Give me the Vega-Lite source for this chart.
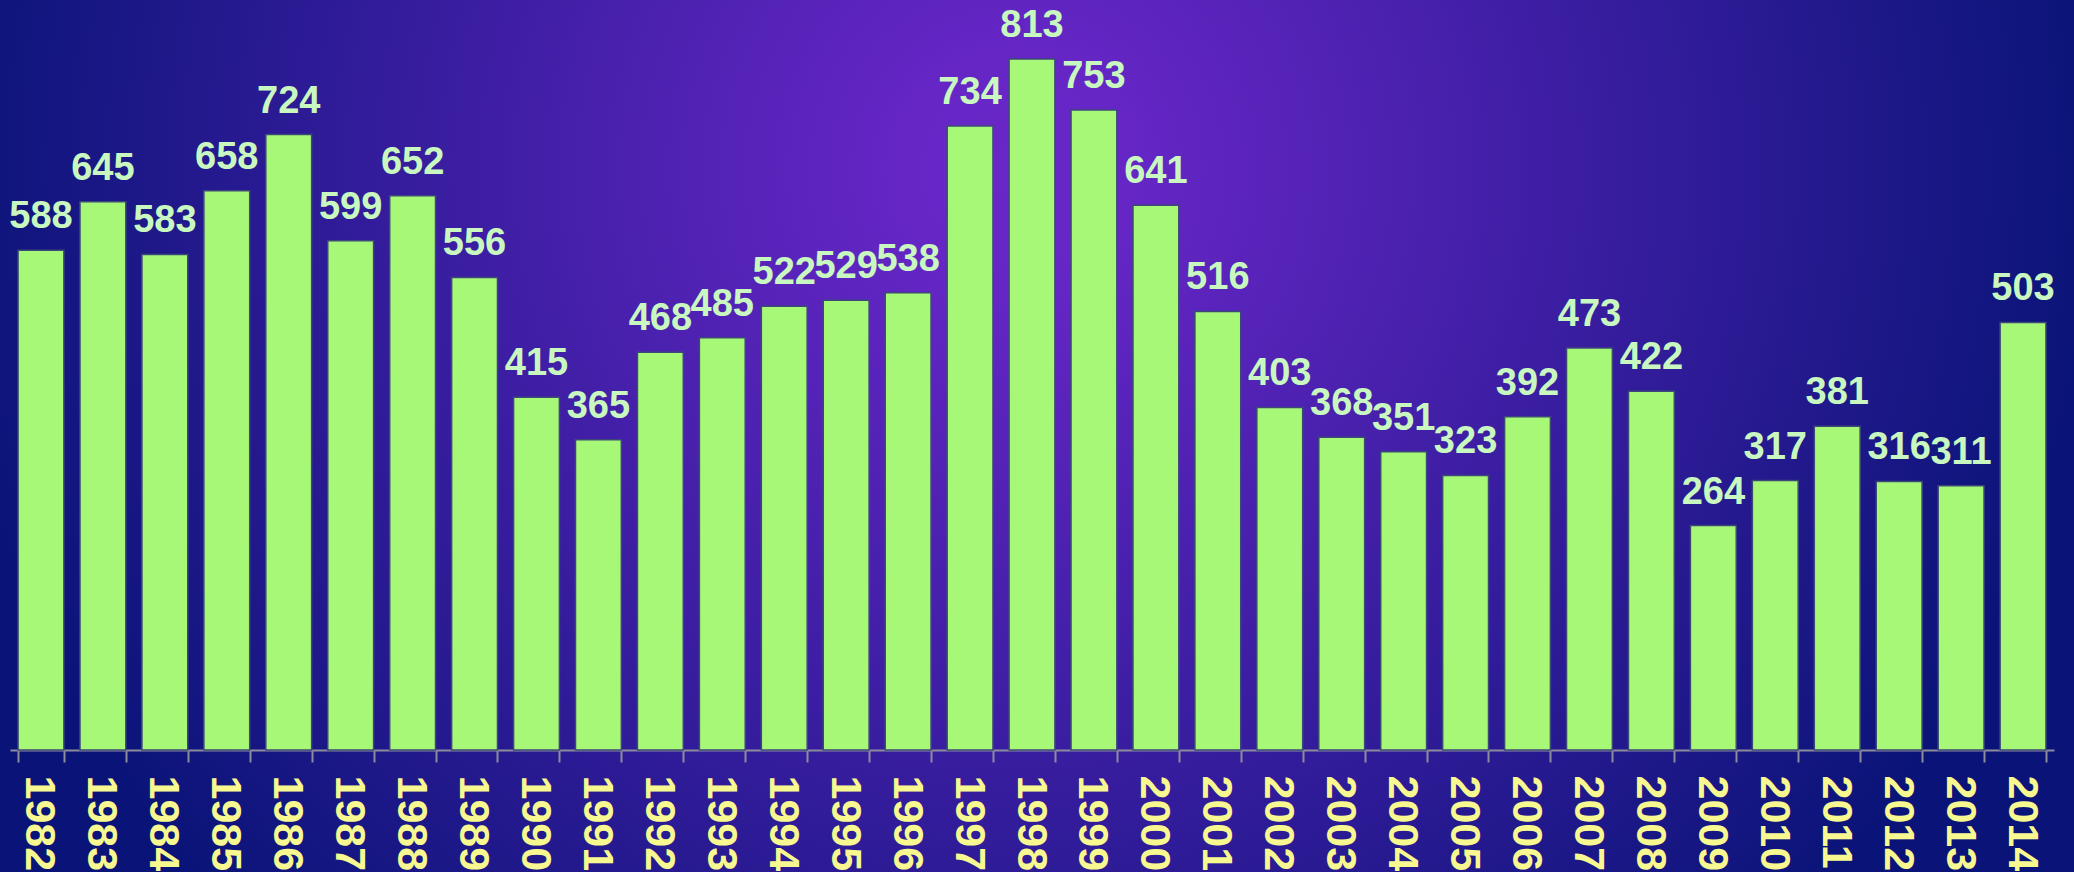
{
  "$schema": "https://vega.github.io/schema/vega-lite/v6.json",
  "width": 2074,
  "height": 872,
  "autosize": {"type": "none"},
  "padding": 0,
  "background": "#0a1478",
  "config": {
    "view": {
      "stroke": null,
      "fill": {
        "gradient": "radial",
        "x1": 0.49, "y1": 0.372, "r1": 0,
        "x2": 0.49, "y2": 0.372, "r2": 0.52,
        "stops": [
          {"offset": 0, "color": "#6a26c8"},
          {"offset": 0.1, "color": "#6626c6"},
          {"offset": 1, "color": "#0a1478"}
        ]
      }
    }
  },
  "data": {
    "values": [
      {"year": 1982, "count": 588}, {"year": 1983, "count": 645}, {"year": 1984, "count": 583},
      {"year": 1985, "count": 658}, {"year": 1986, "count": 724}, {"year": 1987, "count": 599},
      {"year": 1988, "count": 652}, {"year": 1989, "count": 556}, {"year": 1990, "count": 415},
      {"year": 1991, "count": 365}, {"year": 1992, "count": 468}, {"year": 1993, "count": 485},
      {"year": 1994, "count": 522}, {"year": 1995, "count": 529}, {"year": 1996, "count": 538},
      {"year": 1997, "count": 734}, {"year": 1998, "count": 813}, {"year": 1999, "count": 753},
      {"year": 2000, "count": 641}, {"year": 2001, "count": 516}, {"year": 2002, "count": 403},
      {"year": 2003, "count": 368}, {"year": 2004, "count": 351}, {"year": 2005, "count": 323},
      {"year": 2006, "count": 392}, {"year": 2007, "count": 473}, {"year": 2008, "count": 422},
      {"year": 2009, "count": 264}, {"year": 2010, "count": 317}, {"year": 2011, "count": 381},
      {"year": 2012, "count": 316}, {"year": 2013, "count": 311}, {"year": 2014, "count": 503}
    ]
  },
  "encoding": {
    "x": {
      "field": "year",
      "type": "ordinal",
      "scale": {"range": [10, 2054], "paddingInner": 0.26, "paddingOuter": 0.13},
      "axis": {
        "title": null,
        "labelAngle": 90,
        "labelAlign": "left",
        "labelBaseline": "middle",
        "labelFont": "Liberation Sans",
        "labelFontWeight": "bold",
        "labelFontSize": 43,
        "labelColor": "#f8f890",
        "labelPadding": 13,
        "labelOffset": -2,
        "labelOverlap": false,
        "tickBand": "extent",
        "tickSize": 12,
        "tickColor": "#8c8c9c",
        "tickWidth": 2,
        "domainColor": "#8c8c9c",
        "domainWidth": 2,
        "offset": -122,
        "grid": false
      }
    },
    "y": {
      "field": "count",
      "type": "quantitative",
      "scale": {"domain": [0, 880], "range": [750, 2]},
      "axis": null
    }
  },
  "layer": [
    {
      "mark": {"type": "bar", "fill": "#a8f878", "stroke": "#3c4878", "strokeWidth": 1.5}
    },
    {
      "mark": {
        "type": "text",
        "font": "Liberation Sans",
        "fontWeight": "bold",
        "fontSize": 38,
        "color": "#c8f8c0",
        "baseline": "alphabetic",
        "dy": -22
      },
      "encoding": {"text": {"field": "count"}}
    }
  ]
}
